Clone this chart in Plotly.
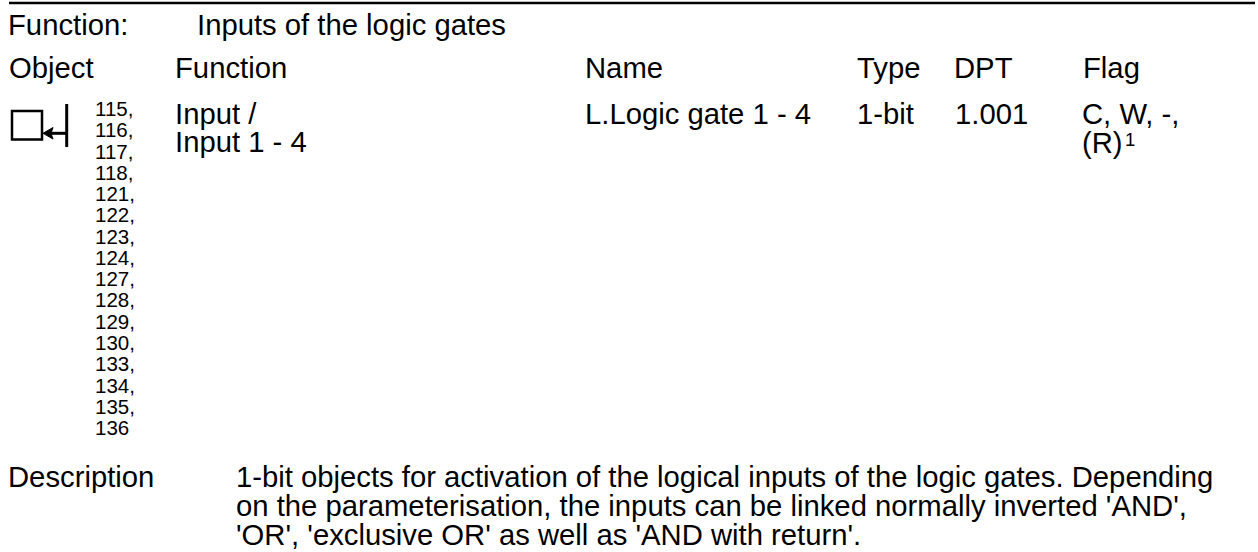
import plotly.graph_objects as go

FONT = "Liberation Sans, Arial, sans-serif"
heading_title = ["Function:", "Inputs of the logic gates"]
column_labels = ["Object", "Function", "Name", "Type", "DPT", "Flag"]
row_values = ["L.Logic gate 1 - 4", "1-bit", "1.001", "C, W, -,"]
function_lines = ["Input /", "Input 1 - 4"]
flag_second = "(R)"
flag_note = "1"
object_numbers = ["115,", "116,", "117,", "118,", "121,", "122,", "123,", "124,",
                  "127,", "128,", "129,", "130,", "133,", "134,", "135,", "136"]
description_label = "Description"
description_lines = [
    "1-bit objects for activation of the logical inputs of the logic gates. Depending",
    "on the parameterisation, the inputs can be linked normally inverted 'AND',",
    "'OR', 'exclusive OR' as well as 'AND with return'.",
]

BIG = 29.25
SMALL = 20.5
fig = go.Figure()
ann = []


def t(x, y, s, size=BIG):
    ann.append(dict(x=x, y=y, text=s, xref="x", yref="y", showarrow=False, xanchor="left",
                    yanchor="middle", align="left", font=dict(family=FONT, size=size, color="#000"),
                    borderpad=0, borderwidth=0))


t(8, 25, heading_title[0]); t(197, 25, heading_title[1])
for x, s in zip([8.5, 174.5, 585, 857, 953.5, 1082.5], column_labels):
    t(x, 68, s)
t(174.5, 114, function_lines[0]); t(174.5, 142, function_lines[1])
for x, s in zip([585, 856.5, 954.5, 1081.5], row_values):
    t(x, 114, s)
t(1081.5, 143, flag_second)
t(1125, 139, flag_note, 18.5)
for i, s in enumerate(object_numbers):
    t(94.5, 108.5 + i * 21.27, s, SMALL)
t(8, 477, description_label)
for i, s in enumerate(description_lines):
    t(235.5, 477 + i * 29, s)

shapes = [
    dict(type="line", x0=9, x1=1255, y0=3, y1=3, line=dict(color="#000", width=2.5)),
    dict(type="rect", x0=12, x1=42, y0=111, y1=139.5, line=dict(color="#000", width=2.5), fillcolor="rgba(0,0,0,0)"),
    dict(type="line", x0=66.7, x1=66.7, y0=104, y1=147, line=dict(color="#000", width=3)),
    dict(type="line", x0=46, x1=67, y0=133.3, y1=133.3, line=dict(color="#000", width=3)),
    dict(type="path", path="M 43 133.3 L 53 127.5 L 51 133.3 L 53 139 Z", fillcolor="#000", line=dict(color="#000", width=1)),
]
fig.update_layout(width=1258, height=552, autosize=False, margin=dict(l=0, r=0, t=0, b=0),
                  paper_bgcolor="#fff", plot_bgcolor="#fff", showlegend=False,
                  annotations=ann, shapes=shapes,
                  xaxis=dict(range=[0, 1258], visible=False, fixedrange=True),
                  yaxis=dict(range=[552, 0], visible=False, fixedrange=True))
fig.write_html("out.html", config=dict(displayModeBar=False),
               post_script="document.body.style.margin='0';document.documentElement.style.overflow='hidden';")
